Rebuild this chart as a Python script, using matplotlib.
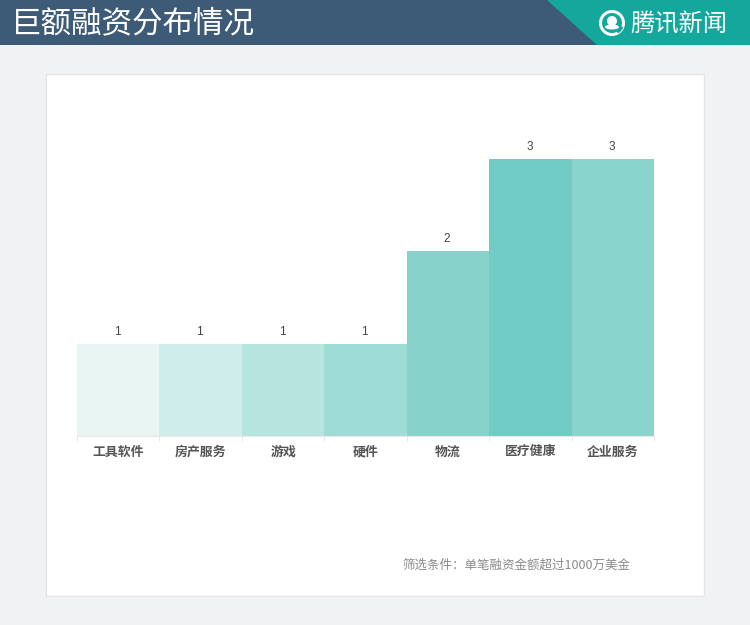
import matplotlib
matplotlib.use('Agg')
import numpy as np
import matplotlib.pyplot as plt
from matplotlib.patches import Circle, Ellipse, Polygon, Rectangle, Wedge

plt.rcParams['font.family'] = ['Noto Sans CJK SC', 'DejaVu Sans']

categories = ['工具软件', '房产服务', '游戏', '硬件', '物流', '医疗健康', '企业服务']
values = [1, 1, 1, 1, 2, 3, 3]
colors = ['#E8F5F3', '#CFEEEB', '#B6E4DF', '#9EDDD6', '#87D3CC', '#72CCC6', '#89D5CD']
title = '巨额融资分布情况'
logo = '腾讯新闻'
note = '筛选条件：单笔融资金额超过1000万美金'

W, H = 750, 625
fig = plt.figure(figsize=(W / 100, H / 100), dpi=100, facecolor='#F1F2F4')

# page furniture, drawn in pixel coords (y down)
bg = fig.add_axes([0, 0, 1, 1])
bg.set_xlim(0, W)
bg.set_ylim(H, 0)
bg.axis('off')
bg.add_patch(Rectangle((46, 74), 658, 522, fc='white', ec='#E4E5E8', lw=1))
bg.add_patch(Rectangle((0, 0), W, 45, fc='#3D5A77', ec='none'))
bg.add_patch(Polygon([(547, 0), (W, 0), (W, 45), (597, 45)], fc='#14A79C', ec='none'))
bg.text(11, 24, title, color='white', fontsize=22, va='center', ha='left')

# logo
bg.add_patch(Wedge((612, 23), 13, 0, 360, width=3, fc='white', ec='none'))
bg.add_patch(Wedge((612, 23), 12, 20, 60, width=4, fc='#14A79C', ec='none'))
bg.add_patch(Circle((612, 21), 5, fc='white', ec='none'))
bg.add_patch(Ellipse((612, 27), 14, 5, fc='white', ec='none'))
bg.text(630, 25, logo, color='white', fontsize=17.5, va='center', ha='left')

bg.text(402, 565, note, color='#8A8A8A', fontsize=9, va='center', ha='left')

# chart
ax = fig.add_axes([77 / W, (H - 436) / H, 577 / W, 277 / H])
ax.patch.set_alpha(0)
x = np.arange(len(categories))
ax.bar(x, values, width=1.0, color=colors, linewidth=0)
for xi, v in zip(x, values):
    ax.text(xi - 0.01, v + 0.13, str(v), ha='center', va='center', fontsize=8.5, color='#444444',
            family='Liberation Sans')

ax.set_xlim(-0.5, len(categories) - 0.5)
ax.set_ylim(0, 3)
ax.set_yticks([])
for side in ['top', 'left', 'right']:
    ax.spines[side].set_visible(False)
ax.spines['bottom'].set_color('#E8E8E8')
ax.spines['bottom'].set_linewidth(0.8)

ax.set_xticks(np.arange(len(categories) + 1) - 0.5)
ax.set_xticklabels([])
ax.tick_params(axis='x', which='major', length=3.5, width=0.6, color='#E4E4E4')
ax.set_xticks(x, minor=True)
ax.set_xticklabels(categories, minor=True, fontsize=9.3, color='#555555', weight='bold',
                   va='baseline')
ax.tick_params(axis='x', which='minor', length=0, pad=14)

fig.savefig('out.png', dpi=100, facecolor=fig.get_facecolor())
